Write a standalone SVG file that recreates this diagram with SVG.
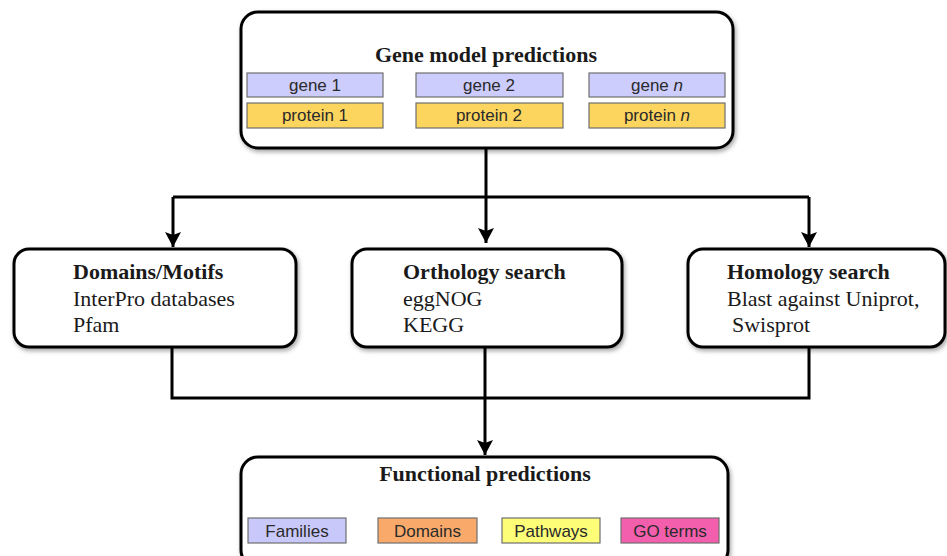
<svg xmlns="http://www.w3.org/2000/svg" width="947" height="556" viewBox="0 0 947 556">
<defs>
<filter id="sh" x="-5%" y="-5%" width="110%" height="115%">
<feDropShadow dx="1.5" dy="2.5" stdDeviation="2" flood-color="#000" flood-opacity="0.35"/>
</filter>
<marker id="arr" markerUnits="userSpaceOnUse" markerWidth="18" markerHeight="18" refX="15" refY="8" orient="auto">
<path d="M0,0 L15,8 L0,16 L3,8 z" fill="#000"/>
</marker>
<style>
.box{fill:#fff;stroke:#000;stroke-width:3;filter:url(#sh)}
.sm{stroke:#6f6f6f;stroke-width:1.2}
.gene{fill:#ccccfd}
.prot{fill:#fcd55e}
.fam{fill:#c9c8fb}
.dom{fill:#f9aa6b}
.path{fill:#fdfd78}
.go{fill:#f35fac}
.t{font-family:"Liberation Serif","Times New Roman",serif;font-size:22px;fill:#1a1a1a}
.b{font-weight:bold}
.s{font-family:"Liberation Sans",Arial,sans-serif;font-size:17px;fill:#2a2a2a;text-anchor:middle}
.c{stroke:#000;stroke-width:3;fill:none}
</style>
</defs>
<g id="connectors">
<path class="c" d="M486,149 V243" marker-end="url(#arr)"/>
<path class="c" d="M173,197 H809"/>
<path class="c" d="M173,197 V247" marker-end="url(#arr)"/>
<path class="c" d="M809,197 V247" marker-end="url(#arr)"/>
<path class="c" d="M172,347 V398 H809 V347"/>
<path class="c" d="M485,347 V455" marker-end="url(#arr)"/>
</g>
<g id="gene-model-predictions">
<rect class="box" x="241" y="12" width="492" height="136" rx="17"/>
<text class="t b" x="486" y="62" text-anchor="middle">Gene model predictions</text>
<rect class="sm gene" x="247" y="73" width="136" height="24"/>
<text class="s" x="315" y="91">gene 1</text>
<rect class="sm prot" x="247" y="103" width="136" height="25"/>
<text class="s" x="315" y="121">protein 1</text>
<rect class="sm gene" x="416" y="73" width="147" height="24"/>
<text class="s" x="489" y="91">gene 2</text>
<rect class="sm prot" x="416" y="103" width="147" height="25"/>
<text class="s" x="489" y="121">protein 2</text>
<rect class="sm gene" x="589" y="73" width="136" height="24"/>
<text class="s" x="657" y="91">gene <tspan font-style="italic">n</tspan></text>
<rect class="sm prot" x="589" y="103" width="136" height="25"/>
<text class="s" x="657" y="121">protein <tspan font-style="italic">n</tspan></text>
</g>
<g id="domains-motifs">
<rect class="box" x="14" y="249" width="282" height="98" rx="15"/>
<text class="t b" x="73" y="279">Domains/Motifs</text>
<text class="t" x="73" y="306">InterPro databases</text>
<text class="t" x="73" y="332">Pfam</text>
</g>
<g id="orthology-search">
<rect class="box" x="352" y="249" width="270" height="98" rx="15"/>
<text class="t b" x="403" y="279">Orthology search</text>
<text class="t" x="403" y="306">eggNOG</text>
<text class="t" x="403" y="332">KEGG</text>
</g>
<g id="homology-search">
<rect class="box" x="688" y="249" width="257" height="98" rx="15"/>
<text class="t b" x="727" y="279">Homology search</text>
<text class="t" x="727" y="306">Blast against Uniprot,</text>
<text class="t" x="732" y="332">Swisprot</text>
</g>
<g id="functional-predictions">
<rect class="box" x="241" y="457" width="487" height="110" rx="17"/>
<text class="t b" x="485" y="481" text-anchor="middle">Functional predictions</text>
<rect class="sm fam" x="248" y="518" width="98" height="25"/>
<text class="s" x="297" y="537">Families</text>
<rect class="sm dom" x="378" y="518" width="99" height="25"/>
<text class="s" x="427.5" y="537">Domains</text>
<rect class="sm path" x="502" y="518" width="98" height="25"/>
<text class="s" x="551" y="537">Pathways</text>
<rect class="sm go" x="621" y="518" width="98" height="25"/>
<text class="s" x="670" y="537">GO terms</text>
</g>
</svg>
